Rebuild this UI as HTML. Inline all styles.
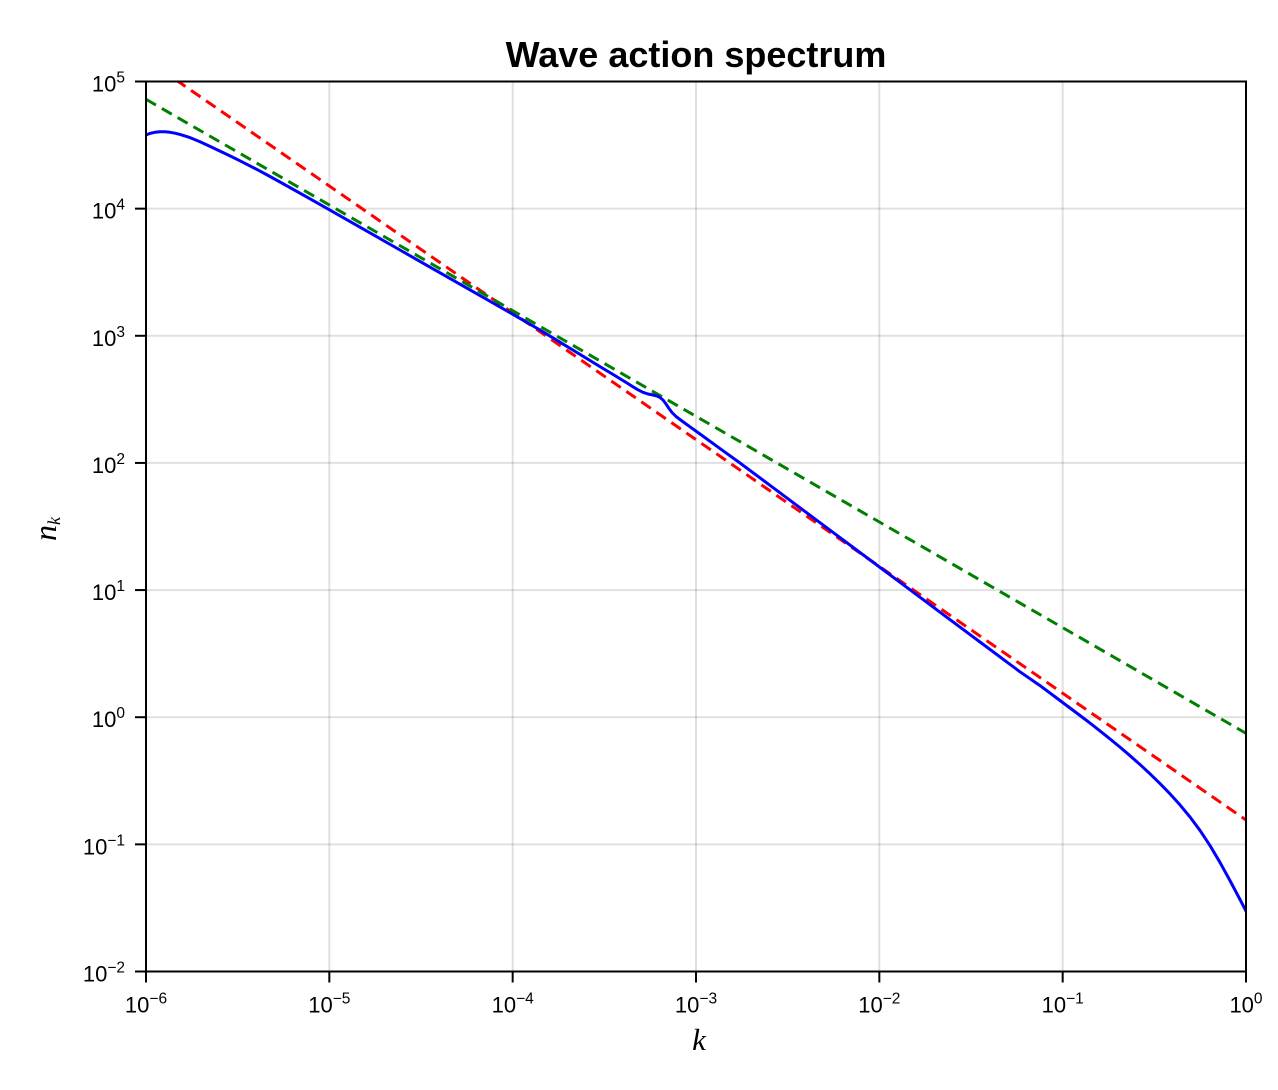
<!DOCTYPE html>
<html>
<head>
<meta charset="utf-8">
<style>
  html, body { margin: 0; padding: 0; background: #ffffff; }
  svg { display: block; }
  text { font-family: "Liberation Sans", "DejaVu Sans", sans-serif; fill: #000; }
</style>
</head>
<body>
<svg width="1278" height="1090" viewBox="0 0 1278 1090" xmlns="http://www.w3.org/2000/svg">
  <defs>
    <clipPath id="plot">
      <rect x="146" y="81.5" width="1100" height="890"/>
    </clipPath>
  </defs>
  <rect x="0" y="0" width="1278" height="1090" fill="#ffffff"/>

  <!-- grid -->
  <g stroke="#000" stroke-opacity="0.12" stroke-width="2">
    <line x1="329.33" y1="81.5" x2="329.33" y2="971.5"/>
    <line x1="512.67" y1="81.5" x2="512.67" y2="971.5"/>
    <line x1="696" y1="81.5" x2="696" y2="971.5"/>
    <line x1="879.33" y1="81.5" x2="879.33" y2="971.5"/>
    <line x1="1062.67" y1="81.5" x2="1062.67" y2="971.5"/>
    <line x1="146" y1="208.64" x2="1246" y2="208.64"/>
    <line x1="146" y1="335.79" x2="1246" y2="335.79"/>
    <line x1="146" y1="462.93" x2="1246" y2="462.93"/>
    <line x1="146" y1="590.07" x2="1246" y2="590.07"/>
    <line x1="146" y1="717.21" x2="1246" y2="717.21"/>
    <line x1="146" y1="844.36" x2="1246" y2="844.36"/>
  </g>

  <!-- series -->
  <g clip-path="url(#plot)" fill="none" stroke-width="3">
    <line x1="146" y1="59.2" x2="1246" y2="820" stroke="#ff0000" stroke-dasharray="11.5 6.75"/>
    <line x1="146" y1="99.3" x2="1246" y2="733.3" stroke="#008000" stroke-dasharray="11.5 6.75"/>
    <polyline stroke="#0000ff" stroke-linejoin="round" stroke-linecap="round" points="
      146,135 150,133.4 155,132.3 160,131.8 165,131.8 170,132.3 175,133.2 180,134.4
      190,137.6 200,141.8 210,146.4 220,151.1 230,155.9 240,160.8 250,165.9 260,171.1
      270,176.5 280,182 300,193.2 320,204.4 340,215.8 360,227.2 380,238.6 400,250 420,261.4
      440,272.8 460,284.2 480,295.6 500,307 520,318.4 540,330 560,342.2 580,354.4
      600,366.6 615,375.6 627,383 633,386.8 638,389.8 643,392.3 648,394 653,395
      657,396 660,397.5 663,400 666,404 669,408.5 672,412.5 676,416.5 682,421
      690,426.8 700,434 720,448.6 740,463 780,492.8 820,522.7 860,552.5 900,582.3
      940,612.2 980,642 1020,671.8 1040,685.6 1060,700.5 1070,708 1080,715.5
      1090,723.1 1100,730.9 1110,738.9 1120,747.15 1130,755.7 1140,764.55 1150,773.8
      1160,783.55 1170,793.85 1180,804.9 1190,817 1200,830.45 1210,845.55 1220,862.45
      1230,880.6 1240,899.5 1246,911"/>
  </g>

  <!-- spines -->
  <rect x="146" y="81.5" width="1100" height="890" fill="none" stroke="#000" stroke-width="2"/>

  <!-- ticks -->
  <g stroke="#000" stroke-width="2">
    <line x1="135" y1="81.5" x2="146" y2="81.5"/>
    <line x1="135" y1="208.64" x2="146" y2="208.64"/>
    <line x1="135" y1="335.79" x2="146" y2="335.79"/>
    <line x1="135" y1="462.93" x2="146" y2="462.93"/>
    <line x1="135" y1="590.07" x2="146" y2="590.07"/>
    <line x1="135" y1="717.21" x2="146" y2="717.21"/>
    <line x1="135" y1="844.36" x2="146" y2="844.36"/>
    <line x1="135" y1="971.5" x2="146" y2="971.5"/>
    <line x1="146" y1="971.5" x2="146" y2="982.5"/>
    <line x1="329.33" y1="971.5" x2="329.33" y2="982.5"/>
    <line x1="512.67" y1="971.5" x2="512.67" y2="982.5"/>
    <line x1="696" y1="971.5" x2="696" y2="982.5"/>
    <line x1="879.33" y1="971.5" x2="879.33" y2="982.5"/>
    <line x1="1062.67" y1="971.5" x2="1062.67" y2="982.5"/>
    <line x1="1246" y1="971.5" x2="1246" y2="982.5"/>
  </g>

  <!-- y tick labels -->
  <g font-size="22" text-anchor="end">
    <text x="125" y="91.5">10<tspan font-size="15.5" dy="-9">5</tspan></text>
    <text x="125" y="218.6">10<tspan font-size="15.5" dy="-9">4</tspan></text>
    <text x="125" y="345.8">10<tspan font-size="15.5" dy="-9">3</tspan></text>
    <text x="125" y="472.9">10<tspan font-size="15.5" dy="-9">2</tspan></text>
    <text x="125" y="600.1">10<tspan font-size="15.5" dy="-9">1</tspan></text>
    <text x="125" y="727.2">10<tspan font-size="15.5" dy="-9">0</tspan></text>
    <text x="125" y="854.4">10<tspan font-size="15.5" dy="-9">−1</tspan></text>
    <text x="125" y="981.5">10<tspan font-size="15.5" dy="-9">−2</tspan></text>
  </g>

  <!-- x tick labels -->
  <g font-size="22" text-anchor="middle">
    <text x="146" y="1012.5">10<tspan font-size="15.5" dy="-9">−6</tspan></text>
    <text x="329.33" y="1012.5">10<tspan font-size="15.5" dy="-9">−5</tspan></text>
    <text x="512.67" y="1012.5">10<tspan font-size="15.5" dy="-9">−4</tspan></text>
    <text x="696" y="1012.5">10<tspan font-size="15.5" dy="-9">−3</tspan></text>
    <text x="879.33" y="1012.5">10<tspan font-size="15.5" dy="-9">−2</tspan></text>
    <text x="1062.67" y="1012.5">10<tspan font-size="15.5" dy="-9">−1</tspan></text>
    <text x="1246" y="1012.5">10<tspan font-size="15.5" dy="-9">0</tspan></text>
  </g>

  <!-- title -->
  <text x="696" y="67" font-size="36" font-weight="bold" text-anchor="middle">Wave action spectrum</text>

  <!-- axis labels -->
  <text x="699" y="1050" font-size="31" font-style="italic" text-anchor="middle" style="font-family:'Liberation Serif', serif;">k</text>
  <text transform="translate(56,541) rotate(-90)" font-size="32" font-style="italic" style="font-family:'Liberation Serif', serif;">n<tspan font-size="18" dy="4">k</tspan></text>
</svg>
</body>
</html>
